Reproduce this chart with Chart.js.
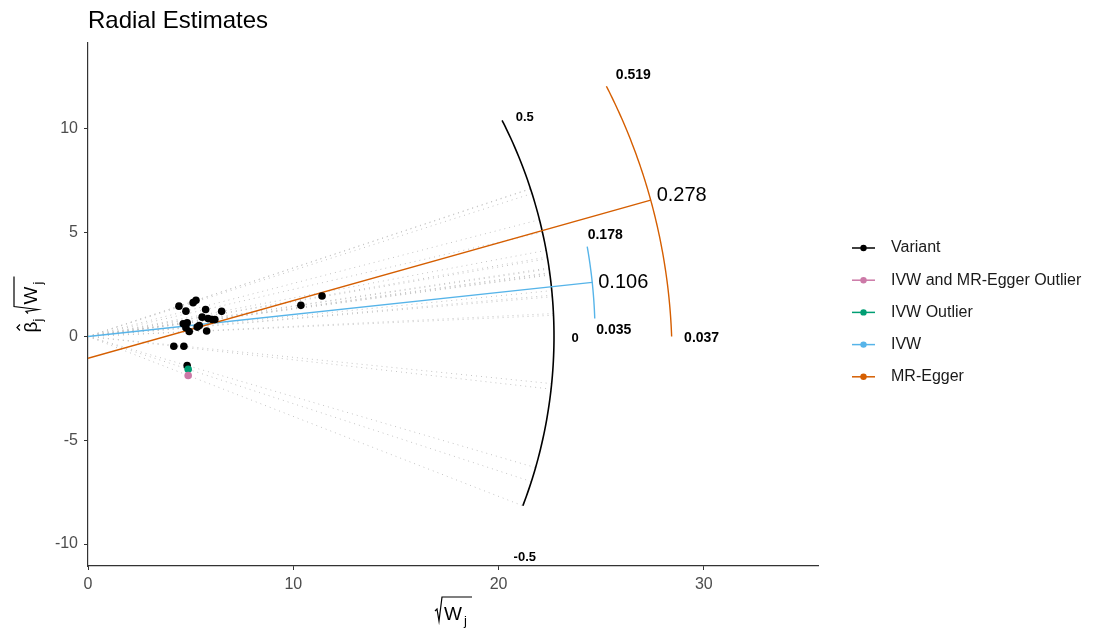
<!DOCTYPE html>
<html>
<head>
<meta charset="utf-8">
<script src="https://cdn.jsdelivr.net/npm/chart.js@4.4.0/dist/chart.umd.min.js"></script>
<style>
html, body { margin: 0; padding: 0; background: #fff; }
</style>
</head>
<body>
<canvas id="radialChart" width="1094" height="635"></canvas>
<script>
// variants: x = sqrt(W_j), y = beta_j * sqrt(W_j)
const variantX = [4.43, 4.77, 5.12, 5.26, 5.73, 6.51, 5.56, 5.85, 6.05, 6.18, 4.64, 4.83, 4.77, 4.93, 5.32, 5.42, 5.78, 4.18, 4.67, 4.83, 10.37, 11.40];
const variantY = [1.46, 1.22, 1.63, 1.74, 1.30, 1.21, 0.93, 0.86, 0.82, 0.82, 0.61, 0.66, 0.42, 0.24, 0.45, 0.53, 0.26, -0.47, -0.47, -1.40, 1.50, 1.95];
const ivwOutlierX = [4.88];
const ivwOutlierY = [-1.58];
const bothOutlierX = [4.88];
const bothOutlierY = [-1.88];

// estimates shown on the arcs
const ivwEstimate = 0.106;
const ivwCI = [0.035, 0.178];
const eggerEstimate = 0.278;
const eggerCI = [0.037, 0.519];
const eggerIntercept = -1.05;
const scaleLabels = [0.5, 0, -0.5];
const circleTop = 0.516;

// axes
const xTicks = [0, 10, 20, 30];
const yTicks = [-10, -5, 0, 5, 10];

// arc radii (plot geometry)
const circleR = 22.7;
const ivwR = 24.7;
const eggerR = 28.45;

const legendItems = [
    { label: 'Variant', color: '#000000' },
    { label: 'IVW and MR-Egger Outlier', color: '#CC79A7' },
    { label: 'IVW Outlier', color: '#009E73' },
    { label: 'IVW', color: '#56B4E9' },
    { label: 'MR-Egger', color: '#D55E00' }
];

function onArc(cx, cy, r, slope) {
    const a = Math.atan(slope);
    return { x: cx + r * Math.cos(a), y: cy + r * Math.sin(a) };
}

function arcPoints(cx, cy, r, s0, s1) {
    const a0 = Math.atan(s0), a1 = Math.atan(s1);
    const pts = [];
    for (let i = 0; i <= 40; i++) {
        const a = a0 + (a1 - a0) * i / 40;
        pts.push({ x: cx + r * Math.cos(a), y: cy + r * Math.sin(a) });
    }
    return pts;
}

const toPoints = (xs, ys) => xs.map((x, i) => ({ x: x, y: ys[i] }));

const allX = variantX.concat(ivwOutlierX, bothOutlierX);
const allY = variantY.concat(ivwOutlierY, bothOutlierY);
const ratios = allX.map((x, i) => allY[i] / x);

const pointSet = (label, xs, ys, color) => ({
    label: label,
    data: toPoints(xs, ys),
    backgroundColor: color,
    borderColor: color,
    pointRadius: 3.8,
    pointBorderWidth: 0,
    showLine: false
});

const lineSet = (data, color, width) => ({
    data: data,
    borderColor: color,
    borderWidth: width,
    showLine: true,
    pointRadius: 0,
    fill: false
});

const arcSet = (data, color, width) => Object.assign(lineSet(data, color, width), { tension: 0.3 });

const datasets = [
    pointSet('IVW and MR-Egger Outlier', bothOutlierX, bothOutlierY, '#CC79A7'),
    pointSet('IVW Outlier', ivwOutlierX, ivwOutlierY, '#009E73'),
    pointSet('Variant', variantX, variantY, '#000000'),
    lineSet([{ x: 0, y: eggerIntercept }, onArc(0, eggerIntercept, eggerR, eggerEstimate)], '#D55E00', 1.4),
    lineSet([{ x: 0, y: 0 }, onArc(0, 0, ivwR, ivwEstimate)], '#56B4E9', 1.4),
    arcSet(arcPoints(0, eggerIntercept, eggerR, eggerCI[0], eggerCI[1]), '#D55E00', 1.4),
    arcSet(arcPoints(0, 0, ivwR, ivwCI[0], ivwCI[1]), '#56B4E9', 1.4),
    arcSet(arcPoints(0, 0, circleR, Math.min(...ratios), circleTop), '#000000', 1.6)
];

// dotted rays from the origin to the scale circle, one per variant
ratios.forEach(r => {
    const ds = lineSet([{ x: 0, y: 0 }, onArc(0, 0, circleR, r)], '#c4c4c4', 1);
    ds.borderDash = [1, 4];
    datasets.push(ds);
});

// text on the arcs: anchor on an arc plus a pixel nudge
const arcLabels = [
    { text: '0.5', cy: 0, r: circleR, s: scaleLabels[0], dx: 20, dy: -8, size: 13, bold: true },
    { text: '0', cy: 0, r: circleR, s: scaleLabels[1], dx: 21, dy: 2, size: 13, bold: true },
    { text: '-0.5', cy: 0, r: circleR, s: scaleLabels[2], dx: 20, dy: 10, size: 13, bold: true },
    { text: String(eggerCI[1]), cy: eggerIntercept, r: eggerR, s: eggerCI[1], dx: 27, dy: -11, size: 14, bold: true },
    { text: String(eggerEstimate), cy: eggerIntercept, r: eggerR, s: eggerEstimate, dx: 31, dy: -5, size: 20, bold: false },
    { text: String(eggerCI[0]), cy: eggerIntercept, r: eggerR, s: eggerCI[0], dx: 30, dy: 2, size: 14, bold: true },
    { text: String(ivwCI[1]), cy: 0, r: ivwR, s: ivwCI[1], dx: 18, dy: -11, size: 14, bold: true },
    { text: String(ivwEstimate), cy: 0, r: ivwR, s: ivwEstimate, dx: 31, dy: 0, size: 20, bold: false },
    { text: String(ivwCI[0]), cy: 0, r: ivwR, s: ivwCI[0], dx: 19, dy: 12, size: 14, bold: true }
];

const FONT = '"Liberation Sans", Arial, sans-serif';

function sqrtW(ctx, x0, b) {
    ctx.beginPath();
    ctx.moveTo(x0, b - 9);
    ctx.lineTo(x0 + 2, b - 11);
    ctx.lineTo(x0 + 4, b + 1);
    ctx.lineTo(x0 + 7, b - 23);
    ctx.lineTo(x0 + 37, b - 23);
    ctx.stroke();
    ctx.font = '19px ' + FONT;
    ctx.fillText('W', x0 + 9, b);
    ctx.font = '13px ' + FONT;
    ctx.fillText('j', x0 + 29, b + 5);
}

const decorations = {
    id: 'decorations',
    afterDraw(chart) {
        const ctx = chart.ctx;
        const xs = chart.scales.x, ys = chart.scales.y;
        ctx.save();

        // arc labels
        ctx.fillStyle = '#000';
        ctx.textAlign = 'center';
        ctx.textBaseline = 'middle';
        arcLabels.forEach(l => {
            const p = onArc(0, l.cy, l.r, l.s);
            ctx.font = (l.bold ? 'bold ' : '') + l.size + 'px ' + FONT;
            ctx.fillText(l.text, xs.getPixelForValue(p.x) + l.dx, ys.getPixelForValue(p.y) + l.dy);
        });

        // title
        ctx.textAlign = 'left';
        ctx.font = '24px ' + FONT;
        ctx.fillStyle = '#000';
        ctx.fillText('Radial Estimates', chart.chartArea.left, 21);

        // x axis title
        ctx.textBaseline = 'alphabetic';
        ctx.strokeStyle = '#000';
        ctx.lineWidth = 1.2;
        sqrtW(ctx, (chart.chartArea.left + chart.chartArea.right) / 2 - 18, 620);

        // y axis title, rotated
        ctx.save();
        ctx.translate(37, (chart.chartArea.top + chart.chartArea.bottom) / 2);
        ctx.rotate(-Math.PI / 2);
        ctx.font = '19px ' + FONT;
        ctx.fillText('\u03B2', -28, 0);
        ctx.beginPath();
        ctx.moveTo(-26, -17);
        ctx.lineTo(-23, -20);
        ctx.lineTo(-20, -17);
        ctx.stroke();
        ctx.font = '13px ' + FONT;
        ctx.fillText('j', -17, 5);
        sqrtW(ctx, -9, 0);
        ctx.restore();

        // legend
        ctx.textBaseline = 'middle';
        legendItems.forEach((item, i) => {
            const y = 248 + i * 32.2;
            ctx.strokeStyle = item.color;
            ctx.fillStyle = item.color;
            ctx.lineWidth = 1.5;
            ctx.beginPath();
            ctx.moveTo(852, y);
            ctx.lineTo(875, y);
            ctx.stroke();
            ctx.beginPath();
            ctx.arc(863.5, y, 3.2, 0, Math.PI * 2);
            ctx.fill();
            ctx.fillStyle = '#1a1a1a';
            ctx.font = '16px ' + FONT;
            ctx.fillText(item.label, 891, y);
        });
        ctx.restore();
    }
};

const axisStyle = {
    grid: { display: true, drawOnChartArea: false, drawTicks: true, tickLength: 4, color: '#333', lineWidth: 1 },
    border: { display: true, color: '#333', width: 1.2 }
};

const ctx = document.getElementById('radialChart').getContext('2d');
const radialChart = new Chart(ctx, {
    type: 'scatter',
    data: { datasets: datasets },
    options: {
        responsive: false,
        animation: false,
        devicePixelRatio: 1,
        layout: { padding: { top: 43, right: 276, left: 0, bottom: 0 } },
        plugins: { legend: { display: false }, tooltip: { enabled: false } },
        scales: {
            x: Object.assign({}, axisStyle, {
                type: 'linear', min: 0, max: 35.56,
                ticks: { color: '#4d4d4d', font: { size: 16, family: FONT }, padding: 5 },
                afterBuildTicks: s => { s.ticks = xTicks.map(v => ({ value: v })); },
                afterFit: s => { s.height = 69; }
            }),
            y: Object.assign({}, axisStyle, {
                type: 'linear', min: -11.06, max: 14.14,
                ticks: { color: '#4d4d4d', font: { size: 16, family: FONT }, padding: 6 },
                afterBuildTicks: s => { s.ticks = yTicks.map(v => ({ value: v })); },
                afterFit: s => { s.width = 88; }
            })
        }
    },
    plugins: [decorations]
});
</script>
</body>
</html>
